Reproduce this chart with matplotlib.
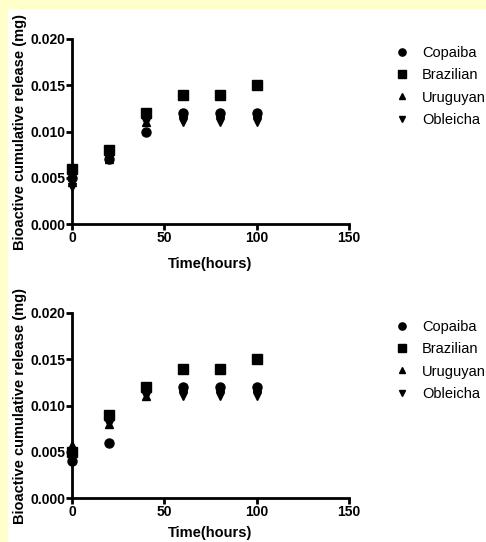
import matplotlib.pyplot as plt
from matplotlib.patches import Rectangle

plt.rcParams['font.family'] = ['Liberation Sans', 'DejaVu Sans']

# time points (hours)
hours = [0, 20, 40, 60, 80, 100]
names = ['Copaiba', 'Brazilian', 'Uruguyan', 'Obleicha']
markers = ['o', 's', '^', 'v']
sizes = [6.5, 6.5, 5.5, 5.5]

# top panel
top_copaiba = [0.005, 0.007, 0.010, 0.012, 0.012, 0.012]
top_brazilian = [0.006, 0.008, 0.012, 0.014, 0.014, 0.015]
top_uruguyan = [0.0045, 0.007, 0.011, 0.012, 0.012, 0.012]
top_obleicha = [0.004, 0.007, 0.011, 0.011, 0.011, 0.011]

# bottom panel
bot_copaiba = [0.004, 0.006, 0.012, 0.012, 0.012, 0.012]
bot_brazilian = [0.005, 0.009, 0.012, 0.014, 0.014, 0.015]
bot_uruguyan = [0.0057, 0.008, 0.011, 0.012, 0.012, 0.012]
bot_obleicha = [0.005, 0.008, 0.011, 0.011, 0.011, 0.011]

W, H = 486, 542
fig = plt.figure(figsize=(W / 100, H / 100), dpi=100)
fig.patch.set_facecolor('#ffffcc')
# white panel behind the plots
fig.patches.append(Rectangle((8 / W, 0), 1 - 8 / W, 1 - 9 / H, transform=fig.transFigure,
                             facecolor='white', edgecolor='none', zorder=-5))


def draw_panel(rect, series, xpad):
    ax = fig.add_axes(rect)
    ax.set_facecolor('none')
    for i, (vals, name, m, ms) in enumerate(zip(series, names, markers, sizes)):
        ax.plot(hours, vals, linestyle='none', marker=m, color='black',
                markersize=ms, label=name, zorder=10 - i, clip_on=False)
    ax.set_xlim(0, 150)
    ax.set_ylim(0, 0.020)
    ax.set_xticks([0, 50, 100, 150])
    ax.set_yticks([0.000, 0.005, 0.010, 0.015, 0.020])
    ax.set_yticklabels(['0.000', '0.005', '0.010', '0.015', '0.020'])
    for s in ['top', 'right']:
        ax.spines[s].set_visible(False)
    for s in ['left', 'bottom']:
        ax.spines[s].set_linewidth(2)
    ax.tick_params(width=2, length=4, direction='out', labelsize=10, pad=1)
    for lab in ax.get_xticklabels() + ax.get_yticklabels():
        lab.set_fontweight('bold')
    ax.set_xlabel('Time(hours)', fontsize=10.5, fontweight='bold', labelpad=xpad)
    ax.set_ylabel('Bioactive cumulative release (mg)', fontsize=10.5, fontweight='bold', labelpad=2)
    ax.legend(loc='upper left', bbox_to_anchor=(1.165, 0.964), frameon=False, fontsize=10.5,
              borderpad=0, borderaxespad=0, handlelength=1, handletextpad=0.87,
              labelspacing=0.58, markerscale=0.8)
    return ax


draw_panel([72 / W, 318 / H, 277 / W, 185 / H],
           [top_copaiba, top_brazilian, top_uruguyan, top_obleicha], 9)
draw_panel([72 / W, 44 / H, 277 / W, 185 / H],
           [bot_copaiba, bot_brazilian, bot_uruguyan, bot_obleicha], 5)

fig.savefig('out.png', dpi=100, facecolor=fig.get_facecolor())
